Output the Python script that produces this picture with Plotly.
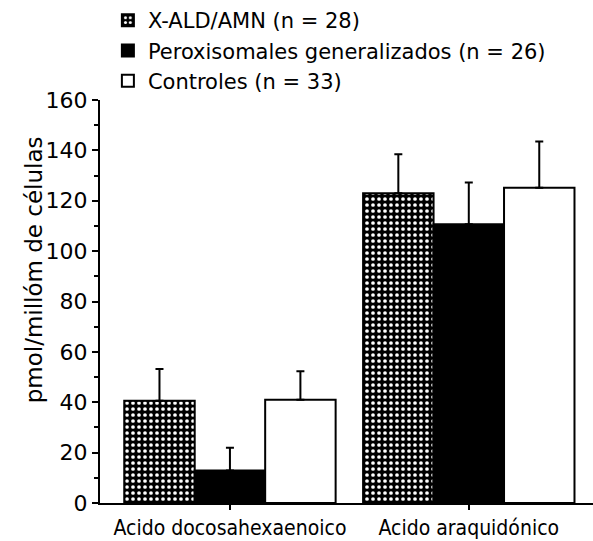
import plotly.graph_objects as go

categories = ["Acido docosahexaenoico", "Acido araquidónico"]
series_names = ["X-ALD/AMN (n = 28)", "Peroxisomales generalizados (n = 26)", "Controles (n = 33)"]
xald_vals = [40.6, 123.0]
xald_err = [12.6, 15.5]
perox_vals = [12.9, 110.7]
perox_err = [9.0, 16.5]
ctrl_vals = [41.0, 125.2]
ctrl_err = [11.3, 18.3]
y_ticks = [0, 20, 40, 60, 80, 100, 120, 140, 160]

FONT = "DejaVu Sans, sans-serif"
FONTC = "DejaVu Sans Condensed, DejaVu Sans, sans-serif"

def err(arr):
    return dict(type="data", array=arr, arrayminus=[0] * len(arr), symmetric=False,
                color="black", thickness=2, width=4)

fig = go.Figure()
fig.add_trace(go.Bar(
    name=series_names[0], x=categories, y=xald_vals, error_y=err(xald_err),
    marker=dict(color="black", line=dict(color="black", width=2),
                pattern=dict(shape=".", fgcolor="white", bgcolor="black", size=6, solidity=0.3,
                             fillmode="replace")),
))
fig.add_trace(go.Bar(
    name=series_names[1], x=categories, y=perox_vals, error_y=err(perox_err),
    marker=dict(color="black", line=dict(color="black", width=2)),
))
fig.add_trace(go.Bar(
    name=series_names[2], x=categories, y=ctrl_vals, error_y=err(ctrl_err),
    marker=dict(color="white", line=dict(color="black", width=2)),
))

fig.update_layout(
    width=593, height=541,
    margin=dict(l=100, r=0, t=100, b=38, autoexpand=False),
    paper_bgcolor="white", plot_bgcolor="white",
    barmode="group", bargap=0.115, bargroupgap=0,
    font=dict(family=FONT, size=19, color="black"),
    showlegend=True,
    legend=dict(x=0.016, xanchor="left", y=1.0, yref="container", yanchor="top",
                font=dict(family=FONT, size=21, color="black"),
                bgcolor="rgba(0,0,0,0)", tracegroupgap=0, traceorder="normal"),
    xaxis=dict(range=[-0.544, 1.52], showline=True, linecolor="black", linewidth=2,
               ticks="outside", ticklen=5, tickwidth=2, tickcolor="black",
               tickfont=dict(family=FONTC, size=21), showgrid=False, zeroline=False),
    yaxis=dict(range=[0, 160], tickvals=y_ticks, showline=True, linecolor="black", linewidth=2,
               ticks="outside", ticklen=6, tickwidth=2, tickcolor="black",
               minor=dict(dtick=10, ticks="outside", ticklen=4, tickwidth=1.5, tickcolor="black"),
               tickfont=dict(family=FONT, size=22), showgrid=False, zeroline=False),
    annotations=[dict(text="pmol/millóm de células", xref="paper", yref="paper",
                      x=-0.165, y=0.579, textangle=-90, showarrow=False,
                      font=dict(family=FONT, size=23, color="black"))],
)

fig.write_html("out.html")
